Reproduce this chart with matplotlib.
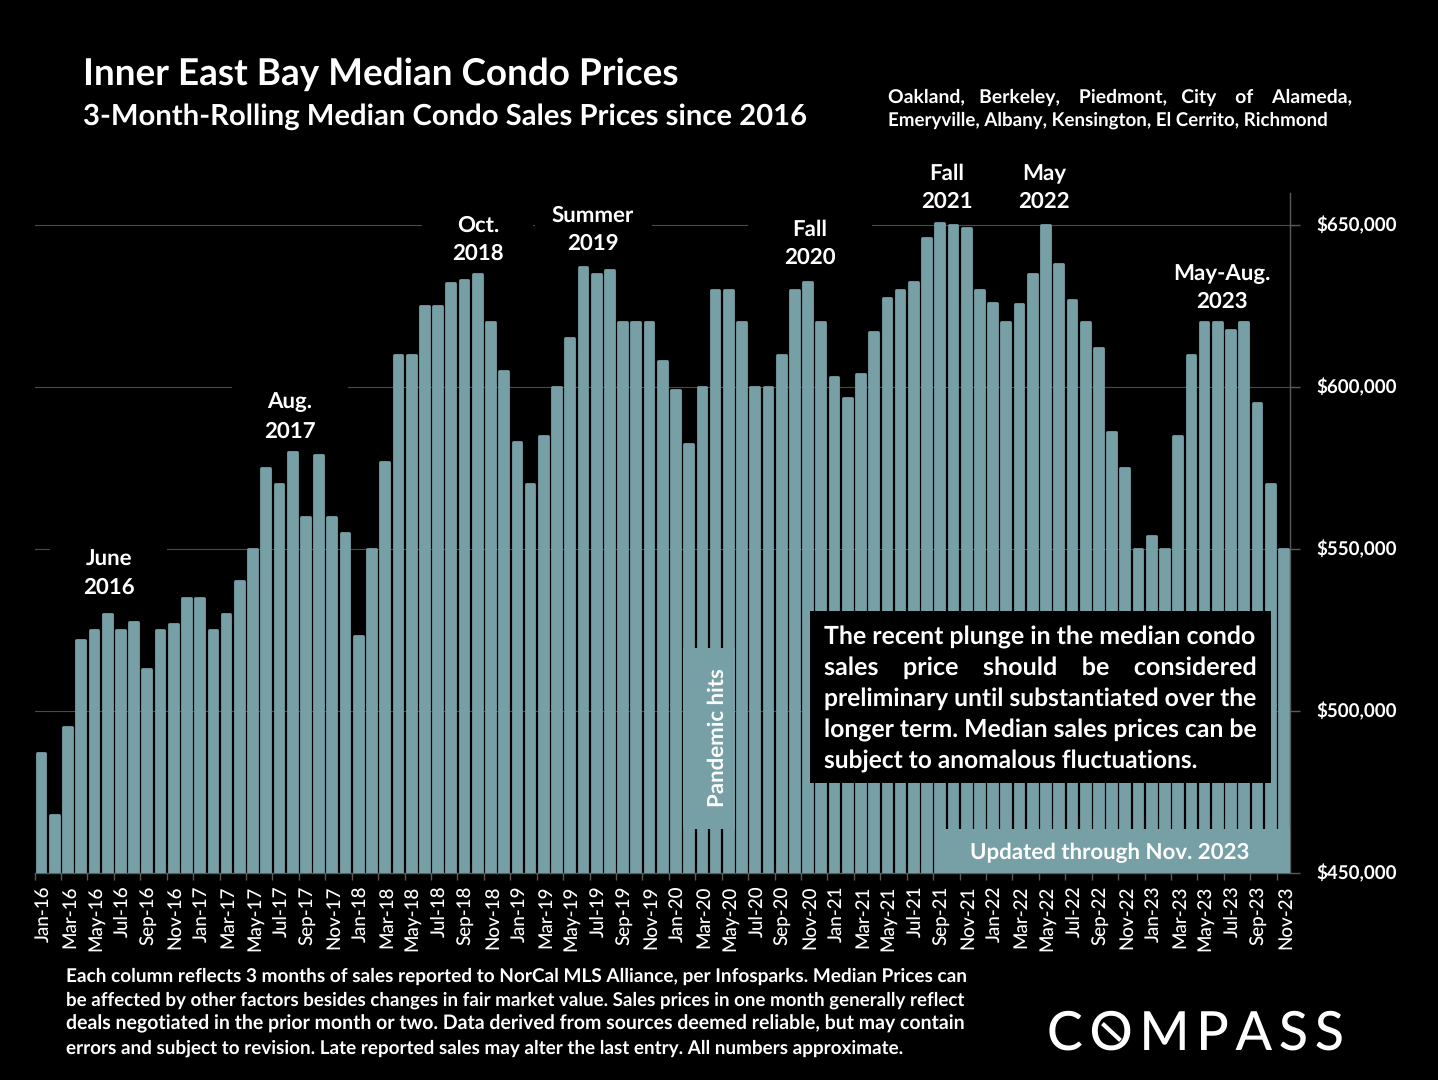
import matplotlib
matplotlib.use("Agg")
import matplotlib.pyplot as plt
from matplotlib.patches import Rectangle
from matplotlib.lines import Line2D
from matplotlib.transforms import ScaledTranslation

plt.rcParams['font.family'] = ['Lato', 'DejaVu Sans']
plt.rcParams['text.hinting'] = 'none'

W, H = 1438, 1080
YEARS = [16, 17, 18, 19, 20, 21, 22, 23]
MONTHS = ['Jan','Feb','Mar','Apr','May','Jun','Jul','Aug','Sep','Oct','Nov','Dec']
months = [f"{m}-{y}" for y in YEARS for m in MONTHS][:95]
prices = [
 487000,468000,495000,522000,525000,530000,525000,527500,513000,525000,527000,535000,
 535000,525000,530000,540000,550000,575000,570000,580000,560000,579000,560000,555000,
 523000,550000,577000,610000,610000,625000,625000,632000,633000,635000,620000,605000,
 583000,570000,585000,600000,615000,637000,635000,636000,620000,620000,620000,608000,
 599000,582500,600000,630000,630000,620000,600000,600000,610000,630000,632500,620000,
 603000,596500,604000,617000,627500,630000,632500,646000,650500,650000,649000,630000,
 626000,620000,625500,635000,650000,638000,627000,620000,612000,586000,575000,550000,
 554000,550000,585000,610000,620000,620000,617500,620000,595000,570000,550000]
y_ticks = [450000, 500000, 550000, 600000, 650000]
y_labels = ['$450,000', '$500,000', '$550,000', '$600,000', '$650,000']
annotations = [
 ('June', '2016', 109, 557, 586), ('Aug.', '2017', 290, 400, 429),
 ('Oct.', '2018', 478, 223, 252), ('Summer', '2019', 593, 213, 241),
 ('Fall', '2020', 810, 227, 255), ('Fall', '2021', 947, 171, 200),
 ('May', '2022', 1044, 172, 200), ('May-Aug.', '2023', 1222, 272, 300)]
masks = [(50,540,167,600),(232,385,348,445),(422,208,533,265),(535,198,652,255),(748,212,872,270)]
title = 'Inner East Bay Median Condo Prices'
subtitle = '3-Month-Rolling Median Condo Sales Prices since 2016'
area_lines = ['Oakland, Berkeley, Piedmont, City of Alameda,',
              'Emeryville, Albany, Kensington, El Cerrito, Richmond']
callout = ['The recent plunge in the median condo',
           'sales price should be considered',
           'preliminary until substantiated over the',
           'longer term. Median sales prices can be',
           'subject to anomalous fluctuations.']
footnote = ['Each column reflects 3 months of sales reported to NorCal MLS Alliance, per Infosparks. Median Prices can',
            'be affected by other factors besides changes in fair market value. Sales prices in one month generally reflect',
            'deals negotiated in the prior month or two. Data derived from sources deemed reliable, but may contain',
            'errors and subject to revision. Late reported sales may alter the last entry. All numbers approximate.']

BAR = '#77A0A6'
GRAY = '#5a5a5a'
DY = 2

def fx(x): return x / W
def fy(y): return 1 - y / H

fig = plt.figure(figsize=(W/100, H/100), dpi=100, facecolor='black')
ax = fig.add_axes([fx(34.5), fy(873), (1290-34.5)/W, (873-192.6)/H], facecolor='black')

ax.bar(range(len(prices)), prices, width=0.66, color=BAR, edgecolor=BAR, linewidth=2.0,
       joinstyle='round', zorder=3)
ax.set_xlim(-0.5, 94.5)
ax.set_ylim(450000, 660000)
ax.yaxis.tick_right()
ax.set_yticks(y_ticks)
ax.set_yticklabels(y_labels, color='white', fontsize=13.5, fontweight='bold')
ax.tick_params(axis='y', length=7, width=1, color=GRAY, pad=12)
ax.set_xticks([i - 0.5 for i in range(0, 95, 2)])
ax.set_xticklabels([])
ax.set_xticks(list(range(0, 95, 2)), minor=True)
ax.set_xticklabels(months[::2], minor=True, rotation=90, color='white', fontsize=13.5, fontweight='medium')
ax.tick_params(axis='x', which='major', length=5, width=1, color=GRAY)
ax.tick_params(axis='x', which='minor', length=0, pad=9)
ax.grid(axis='y', color='#4a4a4a', linewidth=0.8, zorder=1)
ax.set_axisbelow(True)
for s in ['top', 'left']:
    ax.spines[s].set_visible(False)
for s in ['right', 'bottom']:
    ax.spines[s].set_color(GRAY)
    ax.spines[s].set_linewidth(1)
for lab in ax.get_yticklabels():
    lab.set_verticalalignment('center_baseline')
    lab.set_transform(lab.get_transform() + ScaledTranslation(0, 1.5/100, fig.dpi_scale_trans))
for lab in ax.get_xticklabels(minor=True):
    lab.set_transform(lab.get_transform() + ScaledTranslation(2/100, 0, fig.dpi_scale_trans))

for x0, y0, x1, y1 in masks:
    ax.add_patch(Rectangle((fx(x0), fy(y1)), (x1-x0)/W, (y1-y0)/H, transform=fig.transFigure,
                           facecolor='black', edgecolor='none', zorder=2, clip_on=False))

def box(x0, y0, x1, y1, color):
    ax.add_patch(Rectangle((fx(x0), fy(y1)), (x1-x0)/W, (y1-y0)/H, transform=fig.transFigure,
                           facecolor=color, edgecolor='none', zorder=5, clip_on=False))

box(683, 648, 735, 829, BAR)
box(937, 829, 1290, 873, BAR)
box(810, 611, 1271, 783, 'black')

def put(s, x, y, size, weight='bold', ha='left', **kw):
    return fig.text(fx(x), fy(y + DY), s, color='white', fontsize=size, fontweight=weight, ha=ha, va='center', zorder=10, **kw)

renderer = fig.canvas.get_renderer()

def fit_line(s, x0, x1, y, size, weight='bold', justify=True):
    words = s.split(' ')
    t = put(s, x0, y, size, weight)
    target = x1 - x0
    if justify:
        gaps = len(words) - 1
        w = t.get_window_extent(renderer).width
        sp = put('a a', 0, 0, size, weight)
        a2 = put('aa', 0, 0, size, weight)
        space = sp.get_window_extent(renderer).width - a2.get_window_extent(renderer).width
        sp.remove(); a2.remove()
        extra = max(0, round((target - w) / space))
        out = words[0]
        for i, word in enumerate(words[1:]):
            n = 1 + (extra * (i + 1)) // gaps - (extra * i) // gaps
            out += ' ' * n + word
        t.set_text(out)
    for _ in range(3):
        w = t.get_window_extent(renderer).width
        t.set_fontsize(t.get_fontsize() * target / w)
    return t

fit_line(title, 83, 678, 72, 26, justify=False)
fit_line(subtitle, 83, 808, 115, 21, justify=False)
fit_line(area_lines[0], 888, 1354, 95, 14)
fit_line(area_lines[1], 888, 1327, 118, 14, justify=False)
for line, y, x1, j in zip(callout, [635, 666, 697, 728, 759], [1256, 1256, 1256, 1256, 1197], [1, 1, 1, 1, 0]):
    fit_line(line, 824, x1, y, 18, justify=bool(j))
for line, y, x1 in zip(footnote, [974, 998, 1022, 1046], [966, 966, 966, 902]):
    fit_line(line, 66, x1, y, 13, justify=False)

for top, bottom, x, y0, y1 in annotations:
    put(top, x, y0, 16, ha='center')
    put(bottom, x, y1, 16, ha='center')

put('Pandemic hits', 717, 736, 16, ha='center', rotation=90)
put('Updated through Nov. 2023', 1110, 851, 16, ha='center')

fit_line('\u2009'.join('COMPASS'), 1047, 1344, 1032, 36, weight='medium', justify=False)
fig.add_artist(Line2D([fx(1104), fx(1119)], [fy(1025), fy(1039)], color='white', linewidth=3))

fig.savefig('out.png', dpi=100, facecolor='black')
